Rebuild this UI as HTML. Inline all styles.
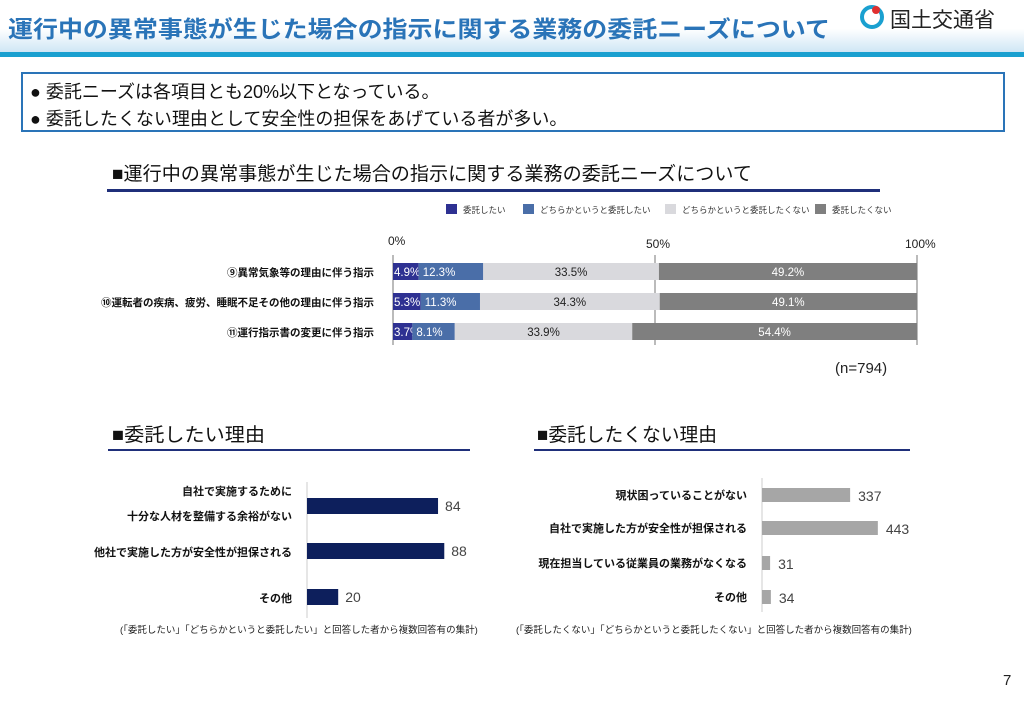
<!DOCTYPE html>
<html><head><meta charset="utf-8">
<style>
body{margin:0;width:1024px;height:698px;background:#fff;overflow:hidden;font-family:"Liberation Sans","Noto Sans CJK JP",sans-serif;}
svg text{font-family:"Liberation Sans","Noto Sans CJK JP",sans-serif;}
</style></head><body>
<svg id="s" width="1024" height="698" xmlns="http://www.w3.org/2000/svg">
<defs><linearGradient id="hg" x1="0" y1="0" x2="0" y2="1"><stop offset="0" stop-color="#ffffff"/><stop offset="0.55" stop-color="#ffffff"/><stop offset="1" stop-color="#cfe6f5"/></linearGradient></defs>
<rect x="0" y="0" width="1024" height="52" fill="url(#hg)"/>
<rect x="0" y="52" width="1024" height="5" fill="#1aa0d0"/>
<text x="8" y="37" font-size="23" font-weight="bold" fill="#2a74b8" textLength="822" lengthAdjust="spacingAndGlyphs">運行中の異常事態が生じた場合の指示に関する業務の委託ニーズについて</text>
<g>
<circle cx="872" cy="17" r="10" fill="none" stroke="#1aa0d0" stroke-width="4"/>
<circle cx="876" cy="10" r="4" fill="#e03030"/>
<text x="890" y="27" font-size="21" fill="#222">国土交通省</text></g>
<rect x="22" y="73" width="982" height="58" fill="#fff" stroke="#2a74b8" stroke-width="2"/>
<text x="30" y="98" font-size="18" fill="#111">●   委託ニーズは各項目とも20%以下となっている。</text>
<text x="30" y="125" font-size="18" fill="#111">●   委託したくない理由として安全性の担保をあげている者が多い。</text>
<text x="112" y="180" font-size="19" fill="#111" textLength="640" lengthAdjust="spacingAndGlyphs">■運行中の異常事態が生じた場合の指示に関する業務の委託ニーズについて</text>
<rect x="107" y="189" width="773" height="3" fill="#1f2f7a"/>
<text x="112" y="441" font-size="19" fill="#111" textLength="153" lengthAdjust="spacingAndGlyphs">■委託したい理由</text>
<rect x="108" y="449" width="362" height="2" fill="#1f2f7a"/>
<text x="537" y="441" font-size="19" fill="#111" textLength="180" lengthAdjust="spacingAndGlyphs">■委託したくない理由</text>
<rect x="534" y="449" width="376" height="2" fill="#1f2f7a"/>
<text x="835" y="373" font-size="15" fill="#222">(n=794)</text>
<text x="120" y="633" font-size="9.5" fill="#222">(「委託したい」「どちらかというと委託したい」と回答した者から複数回答有の集計)</text>
<text x="516" y="633" font-size="9.5" fill="#222">(「委託したくない」「どちらかというと委託したくない」と回答した者から複数回答有の集計)</text>
<text x="1003" y="685" font-size="15" fill="#222">7</text>
<g id="g1"></g><g id="g2"></g><g id="g3"></g>
</svg>
<script>
const stackCats=["⑨異常気象等の理由に伴う指示","⑩運転者の疾病、疲労、睡眠不足その他の理由に伴う指示","⑪運行指示書の変更に伴う指示"];
const seriesNames=["委託したい","どちらかというと委託したい","どちらかというと委託したくない","委託したくない"];
const s1=[4.9,5.3,3.7];
const s2=[12.3,11.3,8.1];
const s3=[33.5,34.3,33.9];
const s4=[49.2,49.1,54.4];
const pctTicks=[0,50,100];
const wantCats=["自社で実施するために|十分な人材を整備する余裕がない","他社で実施した方が安全性が担保される","その他"];
const wantVals=[84,88,20];
const notCats=["現状困っていることがない","自社で実施した方が安全性が担保される","現在担当している従業員の業務がなくなる","その他"];
const notVals=[337,443,31,34];

const NS="http://www.w3.org/2000/svg";
function mk(p,t,a,txt){const e=document.createElementNS(NS,t);for(const k in a)e.setAttribute(k,a[k]);if(txt!==undefined)e.textContent=txt;p.appendChild(e);return e;}
const g1=document.getElementById('g1');
const x1=v=>393+v*5.24;
const rowY=i=>263+i*30;
const cols=["#2e3192","#4a6ea8","#d9d9dd","#7f7f7f"];
const txtCols=["#fff","#fff","#222","#fff"];
const series=[s1,s2,s3,s4];
seriesNames.forEach((n,j)=>{
  const lx=[446,523,665,815][j];
  const r=mk(g1,'rect',{x:lx,y:204,width:11,height:10,fill:cols[j]});
  
  
  const t=mk(g1,'text',{x:lx+17,y:213,'font-size':8.5,fill:'#333'},n);
  
  
});
pctTicks.forEach(v=>{
  const t=mk(g1,'text',{x:x1(v)+(v==0?-5:v==100?-12:-9),y:v==0?245:248,'font-size':12,fill:'#222'},v+'%');
  
  
  const l=mk(g1,'line',{x1:x1(v),x2:x1(v),y1:255,y2:345,stroke:'#777','stroke-width':1});
  
  
});
stackCats.forEach((c,i)=>{
  const t=mk(g1,'text',{x:374,y:rowY(i)+13,'font-size':10.5,'font-weight':'bold','text-anchor':'end',fill:'#111'},c);
  
  
  const tot=s1[i]+s2[i]+s3[i]+s4[i];let acc=0;
  series.forEach((s,j)=>{
    const v=s[i]/tot*100;
    const r=mk(g1,'rect',{x:x1(acc),y:rowY(i),width:x1(acc+v)-x1(acc),height:17,fill:cols[j]});
    
    
    let tx=j==0?x1(acc)+1:j==1?x1(acc)+4:x1(acc+v/2);
    const lt=mk(g1,'text',{x:tx,y:rowY(i)+13,'font-size':11.5,fill:txtCols[j],'text-anchor':j<2?'start':'middle'},s[i].toFixed(1)+'%');
    
    
    acc+=v;
  });
});
const g2=document.getElementById('g2');
const x2=v=>307+v*1.56;
const y2=[498,543,589];
mk(g2,'line',{x1:307,x2:307,y1:482,y2:618,stroke:'#ccc'});
wantCats.forEach((c,i)=>{
  const r=mk(g2,'rect',{x:x2(0),y:y2[i],width:x2(wantVals[i])-x2(0),height:16,fill:'#0d1f5c'});
  
  
  const v=mk(g2,'text',{x:x2(wantVals[i])+7,y:y2[i]+13,'font-size':14,fill:'#444'},wantVals[i]);
  
  
  const parts=c.split('|');
  parts.forEach((p,k)=>{
    const yy=parts.length>1?y2[i]-3+k*25:y2[i]+13;
    const t=mk(g2,'text',{x:292,y:yy,'font-size':11,'font-weight':'bold','text-anchor':'end',fill:'#111'},p);
    
    
  });
});
const g3=document.getElementById('g3');
const x3=v=>762+v*0.2615;
const y3=[488,521,556,590];
mk(g3,'line',{x1:762,x2:762,y1:478,y2:612,stroke:'#ccc'});
notCats.forEach((c,i)=>{
  const r=mk(g3,'rect',{x:x3(0),y:y3[i],width:x3(notVals[i])-x3(0),height:14,fill:'#a6a6a6'});
  
  
  const v=mk(g3,'text',{x:x3(notVals[i])+8,y:y3[i]+13,'font-size':14,fill:'#444'},notVals[i]);
  
  
  const t=mk(g3,'text',{x:747,y:y3[i]+11,'font-size':11,'font-weight':'bold','text-anchor':'end',fill:'#111'},c);
  
  
});
</script>
</body></html>
